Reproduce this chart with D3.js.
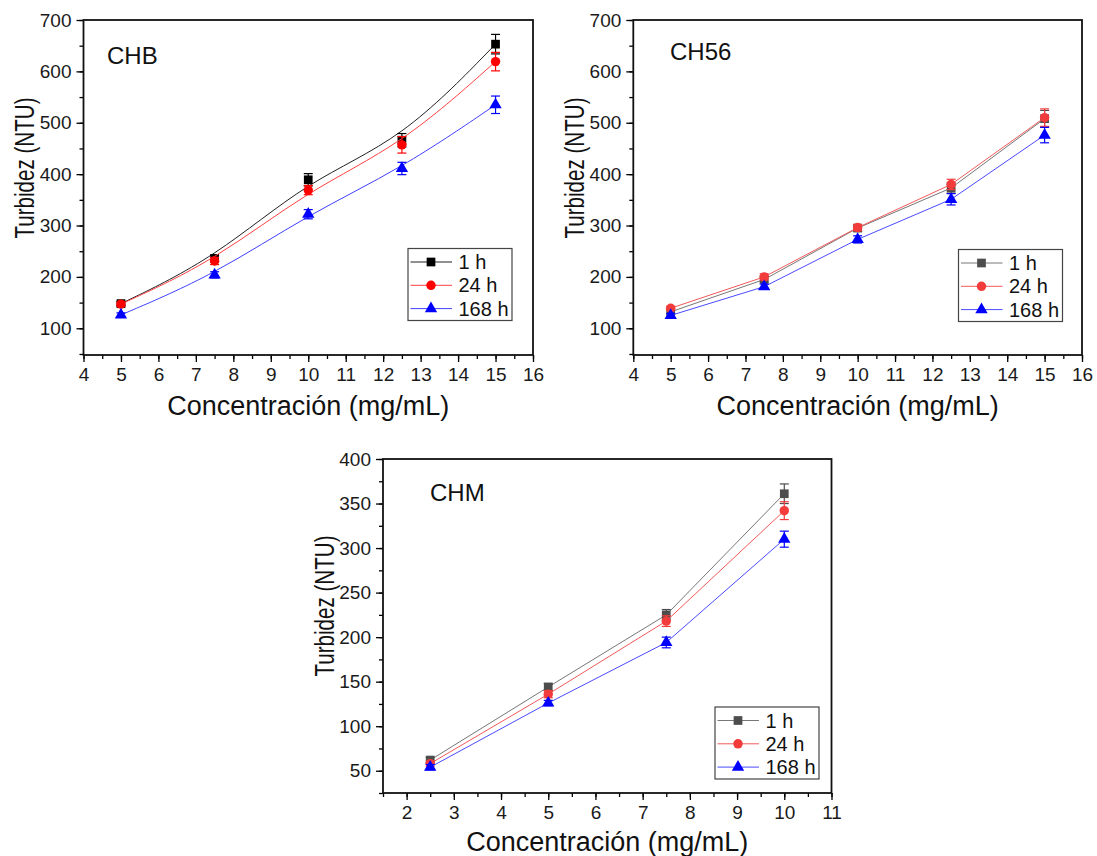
<!DOCTYPE html>
<html>
<head>
<meta charset="utf-8">
<script src="https://cdn.jsdelivr.net/npm/d3@7"></script>
<style>
  body { margin: 0; background: #fff; }
  svg { font-family: "Liberation Sans", Arial, sans-serif; }
</style>
</head>
<body>
<svg id="chart" width="1097" height="856"></svg>
<script>
// data
var seriesNames = ['1 h', '24 h', '168 h'];

var chbX = [5, 7.5, 10, 12.5, 15];
var chb1h = [148, 236, 389, 466, 653];
var chb24h = [147, 231, 369, 457, 619];
var chb168h = [126, 204, 322, 411, 535];
var chb1hErr = [4, 6, 12, 13, 19];
var chb24hErr = [4, 7, 9, 16, 18];
var chb168hErr = [4, 6, 9, 12, 17];

var ch56X = [5, 7.5, 10, 12.5, 15];
var ch56_1h = [132, 195, 295, 373, 508];
var ch56_24h = [139, 200, 296, 380, 510];
var ch56_168h = [125, 181, 273, 351, 476];
var ch56_1hErr = [4, 5, 6, 10, 16];
var ch56_24hErr = [4, 6, 6, 10, 17];
var ch56_168hErr = [4, 5, 7, 11, 15];

var chmX = [2.5, 5, 7.5, 10];
var chm1h = [62, 144, 225, 361];
var chm24h = [58, 136, 218, 342];
var chm168h = [54, 126, 194, 310];
var chm1hErr = [3, 4, 6, 11];
var chm24hErr = [3, 4, 6, 10];
var chm168hErr = [3, 3, 6, 9];

var xTicks1 = d3.range(4, 17, 1);
var yTicks1 = d3.range(100, 701, 100);
var xTicks3 = d3.range(2, 12, 1);
var yTicks3 = d3.range(50, 401, 50);

var svg = d3.select('#chart');

var symSquare = d3.symbol().type(d3.symbolSquare).size(76);
var symCircle = d3.symbol().type(d3.symbolCircle).size(70);
var symTri = d3.symbol().type(d3.symbolTriangle).size(66);

function drawPanel(p) {
    var x = d3.scaleLinear().domain(p.xDomain).range([p.left, p.right]);
    var y = d3.scaleLinear().domain(p.yDomain).range([p.bottom, p.top]);
    var g = svg.append('g');

    // minor ticks
    var xMinor = d3.range(p.xDomain[0], p.xDomain[1] + 0.01, 0.5);
    var yMinor = d3.range(p.yMinorStart, p.yDomain[1] + 0.01, p.yMinorStep);

    g.append('g')
        .attr('transform', 'translate(0,' + p.bottom + ')')
        .call(d3.axisBottom(x).tickValues(xMinor).tickSize(4).tickFormat(''))
        .call((a) => a.select('.domain').remove());
    g.append('g')
        .attr('transform', 'translate(' + p.left + ',0)')
        .call(d3.axisLeft(y).tickValues(yMinor).tickSize(4).tickFormat(''))
        .call((a) => a.select('.domain').remove());

    var xAxis = g.append('g')
        .attr('transform', 'translate(0,' + p.bottom + ')')
        .call(d3.axisBottom(x).tickValues(p.xTicks).tickSize(7).tickPadding(6).tickSizeOuter(0));
    var yAxis = g.append('g')
        .attr('transform', 'translate(' + p.left + ',0)')
        .call(d3.axisLeft(y).tickValues(p.yTicks).tickSize(7).tickPadding(5).tickSizeOuter(0));

    [xAxis, yAxis].forEach((a) => {
        a.selectAll('text').style('font-size', '19px').attr('fill', '#1a1a1a');
        a.select('.domain').remove();
    });
    g.selectAll('.tick line').attr('stroke', '#000').attr('stroke-width', 1.3);

    // frame
    g.append('rect')
        .attr('x', p.left)
        .attr('y', p.top)
        .attr('width', p.right - p.left)
        .attr('height', p.bottom - p.top)
        .attr('fill', 'none')
        .attr('stroke', '#111')
        .attr('stroke-width', 1.8);

    // axis titles
    g.append('text')
        .attr('x', (p.left + p.right) / 2)
        .attr('y', p.xTitleY)
        .attr('text-anchor', 'middle')
        .style('font-size', '27px')
        .attr('fill', '#111')
        .text('Concentración (mg/mL)');

    g.append('text')
        .attr('transform', 'translate(' + p.yTitleX + ',' + p.yTitleMid + ') rotate(-90)')
        .attr('text-anchor', 'middle')
        .attr('textLength', 141)
        .attr('lengthAdjust', 'spacingAndGlyphs')
        .style('font-size', '28px')
        .attr('fill', '#111')
        .text('Turbidez (NTU)');

    // panel label
    g.append('text')
        .attr('x', p.labelX)
        .attr('y', p.labelY)
        .style('font-size', '24px')
        .attr('fill', '#111')
        .text(p.label);

    var curve = p.smooth ? d3.curveBasis : d3.curveLinear;
    var line = d3.line().x((d) => x(d[0])).y((d) => y(d[1])).curve(curve);

    p.series.forEach((s) => {
        var pts = p.xs.map((v, i) => [v, s.values[i], s.errors[i]]);
        g.append('path')
            .attr('d', line(pts))
            .attr('fill', 'none')
            .attr('stroke', s.lineColor)
            .attr('stroke-width', 1);

        pts.forEach((d) => {
            var cx = x(d[0]);
            var y1 = y(d[1] + d[2]);
            var y2 = y(d[1] - d[2]);
            g.append('line')
                .attr('x1', cx).attr('x2', cx)
                .attr('y1', y1).attr('y2', y2)
                .attr('stroke', s.color).attr('stroke-width', 1.2);
            g.append('line')
                .attr('x1', cx - 4.5).attr('x2', cx + 4.5)
                .attr('y1', y1).attr('y2', y1)
                .attr('stroke', s.color).attr('stroke-width', 1.2);
            g.append('line')
                .attr('x1', cx - 4.5).attr('x2', cx + 4.5)
                .attr('y1', y2).attr('y2', y2)
                .attr('stroke', s.color).attr('stroke-width', 1.2);
        });

        g.selectAll(null)
            .data(pts)
            .enter()
            .append('path')
            .attr('d', s.symbol)
            .attr('transform', (d) => 'translate(' + x(d[0]) + ',' + y(d[1]) + ')')
            .attr('fill', s.color);
    });

    // legend
    var lg = g.append('g').attr('transform', 'translate(' + p.legendX + ',' + p.legendY + ')');
    lg.append('rect')
        .attr('width', 104)
        .attr('height', 72)
        .attr('fill', '#fff')
        .attr('stroke', '#444')
        .attr('stroke-width', 1.2);
    p.series.forEach((s, i) => {
        var ry = 13.5 + i * 23.3;
        lg.append('line')
            .attr('x1', 2.5).attr('x2', 44)
            .attr('y1', ry).attr('y2', ry)
            .attr('stroke', s.lineColor).attr('stroke-width', 1);
        lg.append('path')
            .attr('d', s.symbol)
            .attr('transform', 'translate(23,' + ry + ')')
            .attr('fill', s.color);
        lg.append('text')
            .attr('x', 50.5)
            .attr('y', ry + 7)
            .style('font-size', '20px')
            .attr('fill', '#111')
            .text(seriesNames[i]);
    });
}

drawPanel({
    left: 83.5, right: 533, top: 20, bottom: 355,
    xDomain: [4, 16], yDomain: [48, 700],
    xTicks: xTicks1, yTicks: yTicks1, yMinorStart: 50, yMinorStep: 50,
    xTitleY: 415, yTitleX: 34, yTitleMid: 168,
    label: 'CHB', labelX: 107, labelY: 64,
    legendX: 408, legendY: 248.5,
    smooth: true,
    xs: chbX,
    series: [
        { values: chb1h, errors: chb1hErr, color: '#000', lineColor: '#222', symbol: symSquare },
        { values: chb24h, errors: chb24hErr, color: '#ff0000', lineColor: '#ff4040', symbol: symCircle },
        { values: chb168h, errors: chb168hErr, color: '#0000ff', lineColor: '#4040ff', symbol: symTri },
    ],
});

drawPanel({
    left: 633.3, right: 1082, top: 20, bottom: 355,
    xDomain: [4, 16], yDomain: [48, 700],
    xTicks: xTicks1, yTicks: yTicks1, yMinorStart: 50, yMinorStep: 50,
    xTitleY: 415, yTitleX: 584, yTitleMid: 168,
    label: 'CH56', labelX: 670, labelY: 60,
    legendX: 958.5, legendY: 249.5,
    smooth: false,
    xs: ch56X,
    series: [
        { values: ch56_1h, errors: ch56_1hErr, color: '#4d4d4d', lineColor: '#777', symbol: symSquare },
        { values: ch56_24h, errors: ch56_24hErr, color: '#f23c3c', lineColor: '#f25a5a', symbol: symCircle },
        { values: ch56_168h, errors: ch56_168hErr, color: '#0000ff', lineColor: '#4a4aff', symbol: symTri },
    ],
});

drawPanel({
    left: 383, right: 831.5, top: 459, bottom: 793,
    xDomain: [1.5, 11], yDomain: [25, 400],
    xTicks: xTicks3, yTicks: yTicks3, yMinorStart: 25, yMinorStep: 25,
    xTitleY: 851, yTitleX: 334, yTitleMid: 606,
    label: 'CHM', labelX: 430, labelY: 501,
    legendX: 715, legendY: 707,
    smooth: false,
    xs: chmX,
    series: [
        { values: chm1h, errors: chm1hErr, color: '#4d4d4d', lineColor: '#777', symbol: symSquare },
        { values: chm24h, errors: chm24hErr, color: '#f23c3c', lineColor: '#f25a5a', symbol: symCircle },
        { values: chm168h, errors: chm168hErr, color: '#0000ff', lineColor: '#4a4aff', symbol: symTri },
    ],
});
</script>
</body>
</html>
